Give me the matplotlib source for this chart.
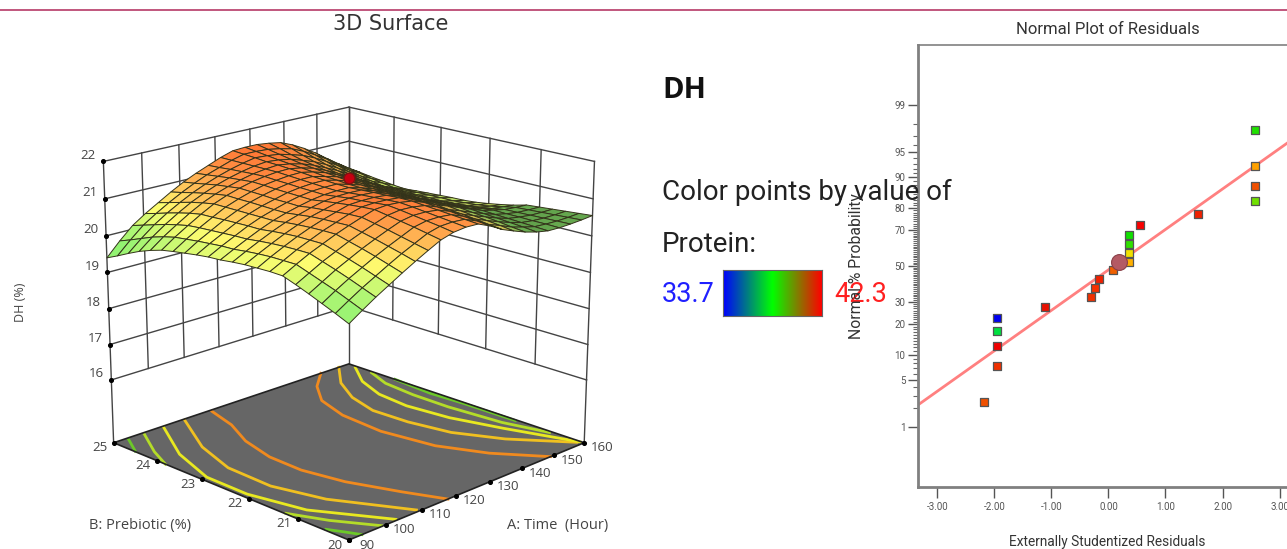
#! /usr/bin/python3

from statistics import NormalDist

import numpy as np
import matplotlib
matplotlib.use("Agg")
import matplotlib.pyplot as plt
from matplotlib.colors import LinearSegmentedColormap
from mpl_toolkits.mplot3d import proj3d

# ---- 3D surface values
time_vals = [90, 93.5, 97, 100.5, 104, 107.5, 111, 114.5, 118, 121.5, 125,
             128.5, 132, 135.5, 139, 142.5, 146, 149.5, 153, 156.5, 160]
prebiotic_vals = [20, 20.25, 20.5, 20.75, 21, 21.25, 21.5, 21.75, 22, 22.25, 22.5,
                  22.75, 23, 23.25, 23.5, 23.75, 24, 24.25, 24.5, 24.75, 25]
dh_rows = [
    [19.70,19.93,20.15,20.35,20.55,20.74,20.92,21.09,21.19,21.23,21.22,21.08,20.90,20.77,20.65,20.56,20.50,20.49,20.50,20.52,20.55],
    [19.85,20.07,20.28,20.47,20.66,20.84,21.00,21.16,21.25,21.27,21.25,21.12,20.94,20.82,20.69,20.60,20.52,20.50,20.49,20.50,20.52],
    [19.99,20.21,20.41,20.59,20.77,20.93,21.08,21.23,21.30,21.31,21.28,21.15,20.99,20.86,20.74,20.63,20.54,20.50,20.48,20.48,20.49],
    [20.13,20.33,20.53,20.70,20.87,21.02,21.16,21.29,21.35,21.35,21.31,21.19,21.03,20.90,20.78,20.66,20.56,20.51,20.47,20.46,20.46],
    [20.26,20.45,20.64,20.80,20.96,21.10,21.23,21.35,21.40,21.39,21.34,21.22,21.06,20.94,20.81,20.69,20.58,20.51,20.46,20.44,20.43],
    [20.38,20.57,20.75,20.90,21.05,21.18,21.30,21.41,21.44,21.42,21.37,21.25,21.10,20.98,20.85,20.72,20.60,20.52,20.45,20.42,20.40],
    [20.39,20.57,20.75,20.90,21.05,21.17,21.29,21.39,21.41,21.40,21.37,21.25,21.10,20.97,20.84,20.70,20.57,20.48,20.39,20.35,20.31],
    [20.38,20.57,20.74,20.90,21.04,21.16,21.26,21.36,21.38,21.38,21.35,21.24,21.10,20.97,20.82,20.68,20.55,20.44,20.34,20.28,20.24],
    [20.37,20.55,20.72,20.88,21.02,21.14,21.23,21.32,21.36,21.36,21.34,21.23,21.10,20.96,20.81,20.67,20.52,20.41,20.30,20.23,20.18],
    [20.34,20.52,20.69,20.85,20.99,21.10,21.20,21.28,21.32,21.33,21.32,21.22,21.10,20.96,20.80,20.66,20.51,20.39,20.27,20.20,20.13],
    [20.30,20.48,20.65,20.81,20.95,21.06,21.15,21.23,21.28,21.30,21.30,21.21,21.10,20.96,20.80,20.65,20.50,20.37,20.25,20.17,20.10],
    [20.28,20.47,20.64,20.81,20.95,21.06,21.16,21.24,21.29,21.31,21.31,21.22,21.12,20.98,20.82,20.66,20.51,20.38,20.25,20.17,20.09],
    [20.24,20.44,20.62,20.80,20.95,21.07,21.16,21.25,21.30,21.33,21.33,21.25,21.14,21.00,20.84,20.69,20.53,20.38,20.25,20.16,20.07],
    [20.19,20.41,20.60,20.79,20.95,21.08,21.18,21.26,21.32,21.35,21.35,21.27,21.18,21.04,20.88,20.72,20.55,20.40,20.25,20.15,20.05],
    [20.14,20.37,20.58,20.77,20.95,21.08,21.19,21.28,21.33,21.37,21.38,21.31,21.21,21.07,20.91,20.75,20.58,20.41,20.25,20.13,20.03],
    [20.08,20.33,20.55,20.76,20.95,21.09,21.20,21.29,21.35,21.39,21.40,21.34,21.25,21.11,20.95,20.78,20.60,20.42,20.25,20.12,20.00],
    [19.98,20.25,20.48,20.70,20.89,21.04,21.16,21.26,21.34,21.39,21.42,21.37,21.29,21.17,21.02,20.86,20.68,20.49,20.31,20.17,20.03],
    [19.86,20.15,20.40,20.62,20.82,20.98,21.12,21.23,21.32,21.39,21.43,21.40,21.34,21.23,21.11,20.95,20.77,20.58,20.38,20.22,20.07],
    [19.71,20.02,20.30,20.53,20.73,20.91,21.06,21.19,21.30,21.39,21.46,21.44,21.40,21.31,21.21,21.06,20.88,20.68,20.47,20.29,20.11],
    [19.55,19.89,20.20,20.43,20.64,20.83,21.00,21.15,21.27,21.39,21.48,21.48,21.46,21.40,21.32,21.17,20.99,20.79,20.56,20.35,20.16],
    [19.40,19.77,20.10,20.34,20.55,20.76,20.95,21.11,21.25,21.39,21.50,21.52,21.52,21.48,21.42,21.28,21.10,20.89,20.65,20.42,20.20],
]

# contour lines on the floor: (colour, Time values, Prebiotic values)
contour_lines = [
    ("#f08a1e", [116.95,114.5,110.3,107.8,107.5,109.5,113.8,117.6], [24.95,24.3,23.65,22.93,22.23,21.47,20.64,20.0]),
    ("#f08a1e", [150.9,144.2,138.6,135.5,134.5,136.6,141.5,149.0], [25.0,24.6,24.08,23.39,22.49,21.5,20.73,20.0]),
    ("#f0c020", [156.7,149.6,144.8,142.2,142.6,144.6,149.9,159.1], [25.0,24.44,23.84,23.2,22.47,21.7,20.94,20.09]),
    ("#e8e820", [159.3,153.8,150.5,149.5,150.8,154.3,159.8], [24.8,24.25,23.64,22.97,22.14,21.25,20.06]),
    ("#b4dc28", [159.4,156.6,155.6,155.5,156.7,159.4], [24.43,23.92,23.24,22.48,21.43,20.64]),
    ("#6cc828", [160.0,159.0,159.5,159.6], [23.94,23.1,22.39,21.34]),
    ("#f0c020", [109.3,101.6,97.8,97.4,100.6,109.3], [24.97,23.93,23.05,22.11,21.21,20.05]),
    ("#e8e820", [103.2,95.6,91.4,91.3,94.2,103.2], [24.95,23.95,23.0,22.13,21.13,20.03]),
    ("#b4dc28", [97.7,92.8,90.0], [24.94,24.29,23.8]),
    ("#6cc828", [93.4,90.2], [24.94,24.51]),
    ("#b4dc28", [90.2,93.8,99.1], [21.25,20.65,20.02]),
    ("#6cc828", [90.4,92.1,93.5], [20.47,20.22,20.0]),
]

time_ticks = [90, 100, 110, 120, 130, 140, 150, 160]
prebiotic_ticks = [20, 21, 22, 23, 24, 25]
dh_ticks = [16, 17, 18, 19, 20, 21, 22]
dh_floor = 14.2
center_time, center_prebiotic, center_dh = 125, 22.5, 21.55

# ---- normal plot values
resid_x = [2.567, 2.567, 2.567, 2.567, 1.564, 0.553, 0.356, 0.356, 0.356, 0.356,
           0.086, -0.165, -0.235, -0.31, -1.105, -1.946, -1.946, -1.946, -1.946, -2.179]
resid_p = [97.5, 92.5, 87.5, 82.5, 77.5, 72.5, 67.5, 62.5, 57.5, 52.5,
           47.5, 42.5, 37.5, 32.5, 27.5, 22.5, 17.5, 12.5, 7.5, 2.5]
resid_colors = ["#20e000", "#ffa000", "#f05000", "#70e000", "#f02000", "#f80000",
                "#10e000", "#30e000", "#f0e000", "#ffb000", "#f06000", "#f02000",
                "#f83000", "#f03000", "#e81000", "#0000f0", "#00e040", "#f00000",
                "#f03000", "#f05000"]
fit_x = [-3.336, 3.13]
fit_p = [2.23, 96.2]
mean_x, mean_p = 0.191, 52.1
xticks_r = [-3, -2, -1, 0, 1, 2, 3]
yticks_r = [1, 5, 10, 20, 30, 50, 70, 80, 90, 95, 99]


def probit(p):
    p = np.clip(np.asarray(p, dtype=float), 1e-4, 100 - 1e-4)
    return np.vectorize(NormalDist().inv_cdf)(p / 100.0)


def probit_inv(z):
    return 100.0 * np.vectorize(NormalDist().cdf)(np.asarray(z, dtype=float))


fig = plt.figure(figsize=(12.87, 5.49), dpi=100, facecolor="white")
W, H = 1287.0, 549.0

# crimson rule along the top
fig.add_artist(plt.Line2D([0, 1], [1 - 9.5 / H] * 2, color="#b0285a", lw=1.1))

# ---- left: 3D surface
size = 660.0
ax = fig.add_axes([(340 - size / 2) / W, (549 - 314 - size / 2) / H, size / W, size / H],
                  projection="3d")
ax.set_axis_off()
ax.patch.set_alpha(0)
ax.computed_zorder = False
ax.set_proj_type("persp", focal_length=0.6)
view_elev = 18
ax.view_init(elev=view_elev, azim=-135)
box_z = 0.87
ax.set_box_aspect((1, 1, box_z), zoom=0.83)
ax.set_xlim(90, 160)
ax.set_ylim(20, 25)
ax.set_zlim(dh_floor, 22)

X, Y = np.meshgrid(time_vals, prebiotic_vals)
Z = np.array(dh_rows)

# floor and contours
fx, fy = np.meshgrid([90, 160], [20, 25])
ax.plot_surface(fx, fy, np.full_like(fx, dh_floor, dtype=float), color="#666666",
                shade=False, zorder=1)
edge_t = [90, 160, 160, 90, 90]
edge_b = [20, 20, 25, 25, 20]
for (c, ct, cb) in contour_lines:
    ax.plot(ct, cb, [dh_floor] * len(ct), color=c, lw=2.0, zorder=2)
ax.plot(edge_t, edge_b, [dh_floor] * 5, color="#222222", lw=1.2, zorder=3)

# back walls
wall = "#444444"
for t in time_ticks:
    ax.plot([t, t], [25, 25], [16, 22], color=wall, lw=1.0, zorder=0)
for b in prebiotic_ticks:
    ax.plot([160, 160], [b, b], [16, 22], color=wall, lw=1.0, zorder=0)
for d in dh_ticks:
    ax.plot([90, 160], [25, 25], [d, d], color=wall, lw=1.0, zorder=0)
    ax.plot([160, 160], [25, 20], [d, d], color=wall, lw=1.0, zorder=0)
ax.plot([90, 90], [25, 25], [dh_floor, 16], color=wall, lw=1.0, zorder=0)
ax.plot([160, 160], [25, 25], [dh_floor, 16], color=wall, lw=1.0, zorder=0)
ax.plot([160, 160], [20, 20], [dh_floor, 16], color=wall, lw=1.0, zorder=0)

# surface colours: height colour, with darkening where it turns away from the viewer
surf_map = LinearSegmentedColormap.from_list(
    "dh", ["#90ee70", "#b4f272", "#f8f86e", "#ffc058", "#ff8a40", "#f86028"])
level = (Z - 19.6) / (21.7 - 19.6)
a = (X - 90) / 70.0
b = (Y - 20) / 5.0
# corner patch behind the fold is drawn greener in the reference
patch = np.clip((a - 0.55) / 0.2, 0, 1) * np.clip((0.33 - b) / 0.15, 0, 1)
level = level - 0.7 * patch
rgba = surf_map(np.clip(level, 0, 1))
dzda, dzdb = np.gradient((Z - dh_floor) / (22 - dh_floor) * box_z, 1 / 20.0, 1 / 20.0)[::-1]
elev = np.radians(view_elev)
view = np.array([-np.cos(elev) / np.sqrt(2), -np.cos(elev) / np.sqrt(2), np.sin(elev)])
dot = (-dzda * view[0] - dzdb * view[1] + view[2]) / np.sqrt(dzda ** 2 + dzdb ** 2 + 1)
bright = np.clip(0.8 + 0.2 * dot / np.sin(elev), 0.4, 1.02) * (1 - 0.3 * patch)
rgba[..., :3] = np.clip(rgba[..., :3] * bright[..., None], 0, 1)
ax.plot_surface(X, Y, Z, facecolors=rgba, rcount=21, ccount=21, shade=False,
                edgecolor="#33331a", linewidth=0.7, zorder=5)
ax.scatter([center_time], [center_prebiotic], [center_dh], s=60, color="#c80010",
           edgecolor="#801010", depthshade=False, zorder=6)

# tick dots and labels, placed through the 3D projection
M = ax.get_proj()


def tick_label(t, b, d, text, dx, dy):
    x2, y2, _ = proj3d.proj_transform(t, b, d, M)
    ax.annotate(text, (x2, y2), xytext=(dx, dy), textcoords="offset pixels", ha="center",
                va="center", fontsize=9.5, color="#444444", family="Open Sans")


for d in dh_ticks:
    ax.scatter([90], [25], [d], s=7, color="black", depthshade=False, zorder=7)
    tick_label(90, 25, d, str(d), -15, 6)
for b_t in prebiotic_ticks:
    ax.scatter([90], [b_t], [dh_floor], s=7, color="black", depthshade=False, zorder=7)
    tick_label(90, b_t, dh_floor, str(b_t), -14, -5)
for t in time_ticks:
    ax.scatter([t], [20], [dh_floor], s=7, color="black", depthshade=False, zorder=7)
    tick_label(t, 20, dh_floor, str(t), 18, -5)

fig.text(391 / W, 1 - 24 / H, "3D Surface", ha="center", va="center", fontsize=15,
         family="DejaVu Sans", color="#333333")
fig.text(20 / W, 1 - 302 / H, "DH (%)", rotation=90, ha="center", va="center", fontsize=9,
         family="Open Sans", color="#444444")
fig.text(140 / W, 1 - 525 / H, "B: Prebiotic (%)", ha="center", va="center", fontsize=10.5,
         family="Open Sans", color="#444444")
fig.text(558 / W, 1 - 525 / H, "A: Time  (Hour)", ha="center", va="center", fontsize=10.5,
         family="Open Sans", color="#444444")

# ---- middle: selector text and colour key
fig.text(662 / W, 1 - 90 / H, "DH", ha="left", va="center", fontsize=21, fontweight="bold",
         family="Open Sans", color="#111111")
fig.text(662 / W, 1 - 192 / H, "Color points by value of", ha="left", va="center", fontsize=20,
         family="Roboto", color="#222222", zorder=5)
fig.text(662 / W, 1 - 245 / H, "Protein:", ha="left", va="center", fontsize=20,
         family="Roboto", color="#222222")
fig.text(662 / W, 1 - 295 / H, "33.7", ha="left", va="center", fontsize=19.5,
         family="Roboto", color="#2020ff")
fig.text(834 / W, 1 - 295 / H, "42.3", ha="left", va="center", fontsize=19.5,
         family="Roboto", color="#ff2020", zorder=5)
cax = fig.add_axes([723 / W, 1 - 316 / H, 99 / W, 46 / H])
key_map = LinearSegmentedColormap.from_list("key", ["#0000ff", "#00ff00", "#ff0000"])
cax.imshow(np.linspace(0, 1, 256)[None, :], aspect="auto", cmap=key_map)
cax.set_xticks([])
cax.set_yticks([])
for sp in cax.spines.values():
    sp.set_color("#666666")

# ---- right: normal plot of residuals
rax = fig.add_axes([918 / W, 1 - 487 / H, (1287 - 918) / W, (487 - 45) / H])
rax.patch.set_alpha(0)
rax.set_yscale("function", functions=(probit, probit_inv))
rax.set_xlim(-3.336, 3.13)
rax.set_ylim(0.07, 99.93)
rax.plot(fit_x, fit_p, color="#ff8080", lw=2, zorder=2)
rax.scatter(resid_x, resid_p, marker="s", s=34, c=resid_colors, edgecolor="#555555",
            linewidth=0.9, zorder=3)
rax.scatter([mean_x], [mean_p], s=130, color="#b45a64", edgecolor="#8a4048", linewidth=0.8,
            zorder=4)
rax.set_xticks(xticks_r)
rax.set_xticklabels(["%.2f" % v for v in xticks_r])
rax.set_yticks(yticks_r)
rax.set_yticklabels([str(v) for v in yticks_r])
rax.set_yticks([v for v in range(2, 99) if v not in yticks_r], minor=True)
rax.tick_params(axis="x", which="major", labelsize=7, length=8, width=1, colors="#555555", pad=3)
rax.tick_params(axis="y", which="major", labelsize=7, length=7, width=1, colors="#555555", pad=2)
rax.tick_params(axis="y", which="minor", length=3.5, width=0.8, colors="#666666", labelleft=False)
rax.tick_params(axis="x", which="minor", length=0)
for lab in rax.get_xticklabels() + rax.get_yticklabels():
    lab.set_family("Roboto")
rax.spines["right"].set_visible(False)
rax.spines["left"].set_linewidth(2)
rax.spines["bottom"].set_linewidth(2)
rax.spines["top"].set_linewidth(1.2)
for sp in ["left", "bottom", "top"]:
    rax.spines[sp].set_color("#808080")

fig.text(1108 / W, 1 - 30 / H, "Normal Plot of Residuals", ha="center", va="center", fontsize=12,
         family="Roboto", color="#333333")
fig.text(1107 / W, 1 - 542 / H, "Externally Studentized Residuals", ha="center", va="center",
         fontsize=9.8, family="Roboto", color="#333333")
fig.text(857 / W, 1 - 266 / H, "Normal % Probability", rotation=90, ha="center", va="center",
         fontsize=11.3, family="Roboto", color="#333333", zorder=6)

plt.savefig("out.png", dpi=100)
